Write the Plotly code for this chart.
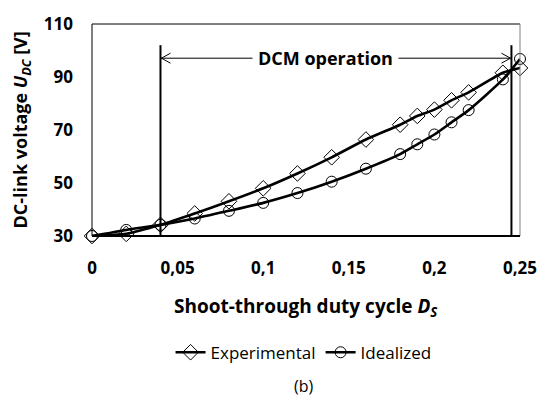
import plotly.graph_objects as go

# ---- data ----
duty_cycle = [0, 0.02, 0.04, 0.06, 0.08, 0.10, 0.12, 0.14, 0.16, 0.18, 0.19, 0.20, 0.21, 0.22, 0.24, 0.25]
experimental = [30, 30.8, 34.2, 38.5, 43.1, 48.0, 53.6, 59.7, 66.4, 72.0, 75.3, 77.7, 81.2, 84.2, 91.6, 93.4]
idealized = [30, 32.3, 34.2, 36.6, 39.5, 42.5, 46.2, 50.5, 55.4, 60.9, 64.6, 68.3, 72.9, 77.5, 89.1, 96.8]

x_tickvals = [0, 0.05, 0.10, 0.15, 0.20, 0.25]
x_ticktext = ["0", "0,05", "0,1", "0,15", "0,2", "0,25"]
y_tickvals = [30, 50, 70, 90, 110]
y_ticktext = ["30", "50", "70", "90", "110"]

dcm_start = 0.04
dcm_end = 0.245
dcm_level = 97.1
dcm_top = 102

FONT = "Open Sans"

fig = go.Figure()
fig.add_trace(go.Scatter(
    x=duty_cycle, y=experimental, name="Experimental", mode="lines+markers",
    line=dict(color="black", width=2.6, shape="spline", smoothing=0.6),
    marker=dict(symbol="diamond-open", size=12, color="black", line=dict(width=1, color="black")),
    cliponaxis=False,
))
fig.add_trace(go.Scatter(
    x=duty_cycle, y=idealized, name="Idealized", mode="lines+markers",
    line=dict(color="black", width=2.6, shape="spline", smoothing=0.6),
    marker=dict(symbol="circle-open", size=11, color="black", line=dict(width=1, color="black")),
    cliponaxis=False,
))

shapes = [
    # plot border
    dict(type="line", xref="paper", yref="paper", x0=0, x1=1, y0=1, y1=1, line=dict(color="black", width=1)),
    dict(type="line", xref="paper", yref="paper", x0=0, x1=0, y0=0, y1=1, line=dict(color="black", width=1)),
    dict(type="line", xref="paper", yref="paper", x0=1, x1=1, y0=0, y1=1, line=dict(color="#808080", width=1)),
    dict(type="line", xref="paper", yref="paper", x0=0, x1=1, y0=0, y1=0, line=dict(color="black", width=2)),
    # DCM boundaries
    dict(type="line", xref="x", yref="y", x0=dcm_start, x1=dcm_start, y0=30, y1=dcm_top, line=dict(color="black", width=2)),
    dict(type="line", xref="x", yref="y", x0=dcm_end, x1=dcm_end, y0=30, y1=dcm_top, line=dict(color="black", width=2)),
    # DCM arrow line
    dict(type="line", xref="x", yref="y", x0=dcm_start, x1=dcm_end, y0=dcm_level, y1=dcm_level, line=dict(color="black", width=1)),
    # open arrowheads
    dict(type="path", xref="x", yref="y", xsizemode="pixel", ysizemode="pixel",
         xanchor=dcm_start, yanchor=dcm_level, path="M 10,5 L 1,0 L 10,-5", line=dict(color="black", width=1)),
    dict(type="path", xref="x", yref="y", xsizemode="pixel", ysizemode="pixel",
         xanchor=dcm_end, yanchor=dcm_level, path="M -10,5 L -1,0 L -10,-5", line=dict(color="black", width=1)),
]

annotations = [
    dict(x=0.1362, y=dcm_level, xref="x", yref="y", text="<b>DCM operation</b>", showarrow=False,
         bgcolor="white", borderpad=5, font=dict(family=FONT, size=18, color="black")),
    dict(x=-72 / 437, y=0.5, xref="paper", yref="paper", text="<b>DC-link voltage <i>U</i><sub><i>DC</i></sub> [V]</b>",
         textangle=-90, showarrow=False, xanchor="center", yanchor="middle",
         font=dict(family=FONT, size=18, color="black")),
    dict(x=(310 - 92) / 437, y=-73 / 218, xref="paper", yref="paper", text="<b>Shoot-through duty cycle <i>D</i><sub><i>S</i></sub></b>",
         showarrow=False, xanchor="center", yanchor="middle",
         font=dict(family=FONT, size=19, color="black")),
    dict(x=(308 - 92) / 437, y=-154 / 218, xref="paper", yref="paper", text="(b)",
         showarrow=False, xanchor="center", yanchor="middle", borderpad=0,
         font=dict(family=FONT, size=16, color="black")),
]

fig.update_layout(
    width=549, height=401,
    margin=dict(l=92, r=20, t=18, b=165),
    paper_bgcolor="white", plot_bgcolor="white",
    font=dict(family=FONT, color="black"),
    showlegend=True,
    legend=dict(orientation="h", x=(308 - 92) / 437, y=-120 / 218, xanchor="center", yanchor="middle",
                font=dict(family=FONT, size=17, color="black"), itemwidth=30, tracegroupgap=0),
    xaxis=dict(range=[0, 0.25], tickvals=x_tickvals, ticktext=x_ticktext, showgrid=False, zeroline=False,
               showline=False, ticks="", ticklabelstandoff=20,
               tickfont=dict(family=FONT, size=17, color="black", weight="bold")),
    yaxis=dict(range=[30, 110], tickvals=y_tickvals, ticktext=y_ticktext, showgrid=False, zeroline=False,
               showline=False, ticks="", ticklabelstandoff=18,
               tickfont=dict(family=FONT, size=17, color="black", weight="bold")),
    shapes=shapes, annotations=annotations,
)

fig.write_html("out.html", config={"displayModeBar": False},
               post_script="document.body.style.margin='0';document.body.style.overflow='hidden';")
